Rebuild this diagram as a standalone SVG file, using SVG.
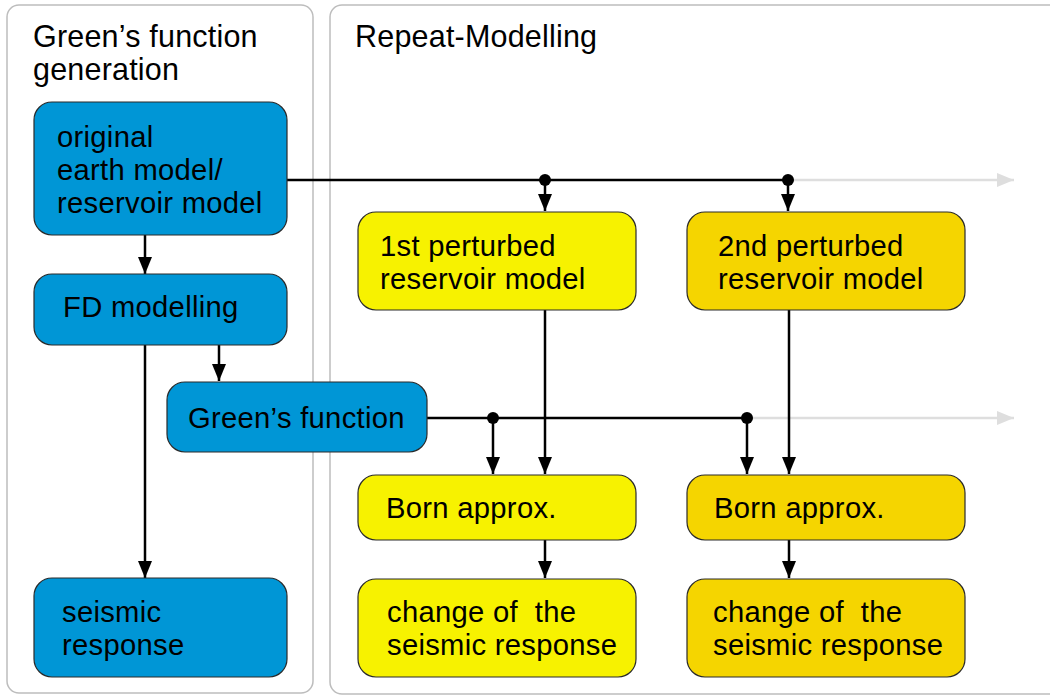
<svg xmlns="http://www.w3.org/2000/svg" width="1050" height="696" viewBox="0 0 1050 696">
<style>
.panel{fill:#fff;stroke:#bdbdbd;stroke-width:1.5}
.blue{fill:#0096d6;stroke:#2a2a2a;stroke-width:1.2}
.yel{fill:#f7f200;stroke:#2a2a2a;stroke-width:1.2}
.gold{fill:#f5d500;stroke:#2a2a2a;stroke-width:1.2}
text{font-family:"Liberation Sans",Arial,sans-serif;font-size:29.2px;fill:#000;letter-spacing:0.3px}
text.title{font-size:30.5px;letter-spacing:0.2px}
.ln{stroke:#000;stroke-width:2.5;fill:none}
.gl{stroke:#dedede;stroke-width:2.5;fill:none}
</style>
<defs>
<marker id="ah" viewBox="0 0 17 14" refX="17" refY="7" markerWidth="17" markerHeight="14" markerUnits="userSpaceOnUse" orient="auto">
<path d="M0,0 L17,7 L0,14 z" fill="#000"/>
</marker>
<marker id="ag" viewBox="0 0 17 14" refX="17" refY="7" markerWidth="17" markerHeight="14" markerUnits="userSpaceOnUse" orient="auto">
<path d="M0,0 L17,7 L0,14 z" fill="#dedede"/>
</marker>
</defs>
<g id="panel-left">
<rect class="panel" x="7" y="5" width="306" height="688" rx="12"/>
<text class="title" x="33" y="47">Green’s function</text>
<text class="title" x="33" y="80">generation</text>
</g>
<g id="panel-right">
<rect class="panel" x="330" y="5" width="740" height="689" rx="12"/>
<text class="title" x="355" y="47">Repeat-Modelling</text>
</g>
<g id="connectors">
<path class="gl" d="M788,180 H1014" marker-end="url(#ag)"/>
<path class="gl" d="M747,418 H1014" marker-end="url(#ag)"/>
<path class="ln" d="M287,180 H788"/>
<path class="ln" d="M545,180 V211" marker-end="url(#ah)"/>
<path class="ln" d="M788,180 V211" marker-end="url(#ah)"/>
<circle cx="545" cy="180" r="6"/>
<circle cx="788" cy="180" r="6"/>
<path class="ln" d="M145,235 V274" marker-end="url(#ah)"/>
<path class="ln" d="M219,345 V381" marker-end="url(#ah)"/>
<path class="ln" d="M145,345 V578" marker-end="url(#ah)"/>
<path class="ln" d="M427,418 H747"/>
<path class="ln" d="M493,418 V474" marker-end="url(#ah)"/>
<path class="ln" d="M747,418 V474" marker-end="url(#ah)"/>
<circle cx="493" cy="418" r="6"/>
<circle cx="747" cy="418" r="6"/>
<path class="ln" d="M545,310 V474" marker-end="url(#ah)"/>
<path class="ln" d="M789,310 V474" marker-end="url(#ah)"/>
<path class="ln" d="M545,540 V578" marker-end="url(#ah)"/>
<path class="ln" d="M789,540 V578" marker-end="url(#ah)"/>
</g>
<g id="node-original">
<rect class="blue" x="34" y="102" width="253" height="133" rx="18"/>
<text x="57" y="147">original</text>
<text x="57" y="180">earth model/</text>
<text x="57" y="213">reservoir model</text>
</g>
<g id="node-fd">
<rect class="blue" x="34" y="274" width="253" height="71" rx="18"/>
<text x="63" y="317">FD modelling</text>
</g>
<g id="node-green">
<rect class="blue" x="167" y="382" width="260" height="70" rx="18"/>
<text x="188" y="428">Green’s function</text>
</g>
<g id="node-seismic">
<rect class="blue" x="34" y="578" width="253" height="99" rx="18"/>
<text x="62" y="622">seismic</text>
<text x="62" y="655">response</text>
</g>
<g id="node-pert1">
<rect class="yel" x="358" y="212" width="278" height="98" rx="18"/>
<text x="380" y="256">1st perturbed</text>
<text x="380" y="289">reservoir model</text>
</g>
<g id="node-pert2">
<rect class="gold" x="687" y="212" width="278" height="98" rx="18"/>
<text x="718" y="256">2nd perturbed</text>
<text x="718" y="289">reservoir model</text>
</g>
<g id="node-born1">
<rect class="yel" x="358" y="475" width="278" height="65" rx="18"/>
<text x="386" y="518">Born approx.</text>
</g>
<g id="node-born2">
<rect class="gold" x="687" y="475" width="278" height="65" rx="18"/>
<text x="714" y="518">Born approx.</text>
</g>
<g id="node-change1">
<rect class="yel" x="358" y="579" width="278" height="98" rx="18"/>
<text x="387" y="622" xml:space="preserve">change of  the</text>
<text x="387" y="655">seismic response</text>
</g>
<g id="node-change2">
<rect class="gold" x="687" y="579" width="278" height="98" rx="18"/>
<text x="713" y="622" xml:space="preserve">change of  the</text>
<text x="713" y="655">seismic response</text>
</g>
</svg>
